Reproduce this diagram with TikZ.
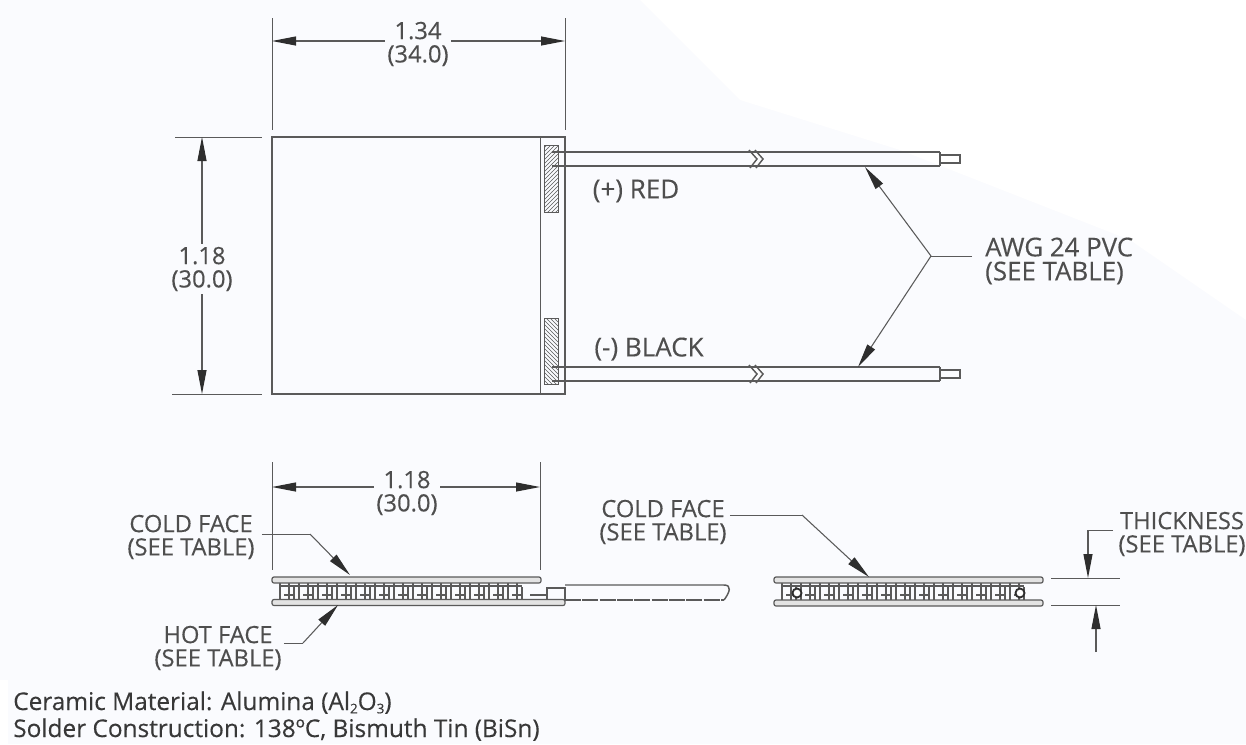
\documentclass[tikz,border=0pt]{standalone}
\usepackage{fontspec}
\setmainfont{Open Sans}
\newfontfamily\labf[FakeBold=0.25]{Open Sans}
\usetikzlibrary{arrows.meta,patterns}
\definecolor{ink}{HTML}{5A5A5A}
\definecolor{dark}{HTML}{2E2E2E}
\definecolor{txt}{HTML}{4E4E4E}
\definecolor{bgtint}{HTML}{FAFBFE}
\tikzset{
  x=0.75pt,y=-0.75pt,
  ln/.style={draw=ink,line width=1.1pt},
  thin ln/.style={draw=ink,line width=0.75pt},
  tip/.style={-{Stealth[length=24*0.75pt,width=9*0.75pt,inset=0pt,color=dark]},draw=ink,line width=0.8pt},
  dim/.style={-{Stealth[length=24*0.75pt,width=9*0.75pt,inset=0pt,color=dark]},draw=ink,line width=0.8pt,shorten <=2pt},
  lab/.style={text=txt,font=\labf\fontsize{17.8}{17.5}\selectfont,align=center,inner sep=0pt},
  awglab/.style={text=txt,font=\labf\fontsize{19.4}{18}\selectfont,align=left,inner sep=0pt},
  biglab/.style={text=txt,font=\labf\fontsize{19.5}{20}\selectfont,inner sep=0pt},
  note/.style={text=black!78,font=\labf\fontsize{18.3}{20}\selectfont,anchor=base west,inner sep=0pt},
  plate/.style={draw=ink,line width=0.9pt,fill=gray!22,rounded corners=1.5pt,inner sep=0pt},
  wire/.style={draw=ink,line width=1.1pt},
  cell/.style={draw=ink,line width=0.8pt}
}
\newcommand{\pelletrow}[4]{% start x, count-1, top y, bottom y
  \draw[cell] (#1,#3+3) -- ({#1+19*#2+14},#3+3);
  \foreach \i in {0,...,#2}{
    \draw[cell] ({#1+19*\i},#3) -- ({#1+19*\i},#4);
    \draw[cell] ({#1+19*\i+9},#3) -- ({#1+19*\i+9},#4);
    \draw[cell] ({#1+19*\i+14},#3+4) -- ({#1+19*\i+14},#4);
    \draw[cell] ({#1+19*\i+4},#4-5) -- ({#1+19*\i+14},#4-5);
  }
}
\newcommand{\subnum}[1]{\raisebox{-2.5pt}{\fontsize{10}{10}\selectfont #1}}
\begin{document}
\begin{tikzpicture}
\useasboundingbox (0,0) rectangle (1246,744);
\fill[bgtint] (0,0) rectangle (1246,744);
\fill[white] (640,0)--(1246,0)--(1246,320)--(1130,240)--(900,150)--(740,100)--cycle;
\fill[white] (0,680) rectangle (8,744);
% top view
\coordinate (bodyTL) at (272,137);
\coordinate (bodyBR) at (565,394);
\draw[ln] (bodyTL) rectangle (bodyBR);
\coordinate (stripT) at (540,137);
\coordinate (stripB) at (540,394);
\draw[thin ln] (stripT) -- (stripB);
\fill[pattern=north east lines,pattern color=ink] (544,145) rectangle (558,212);
\draw[thin ln] (544,145) rectangle (558,212);
\fill[pattern=north west lines,pattern color=ink] (544,318) rectangle (558,384);
\draw[thin ln] (544,318) rectangle (558,384);
% wires
\foreach \y in {152,367}{
  \draw[wire] (552,\y) -- (940,\y) (552,\y+14) -- (940,\y+14);
  \fill[white,opacity=.7] (751,\y+1) rectangle (762,\y+13);
  \draw[wire] (749,\y-2) -- (757,\y+7) -- (750,\y+16);
  \draw[wire] (755,\y-2) -- (763,\y+7) -- (756,\y+16);
  \draw[wire] (940,\y) -- (940,\y+14);
  \draw[wire] (940,\y+3) rectangle (960,\y+11);
}
% top dims
\coordinate (e1a) at (272,18); \coordinate (e1b) at (272,130);
\coordinate (e2a) at (565,18); \coordinate (e2b) at (565,130);
\draw[thin ln] (e1a)--(e1b) (e2a)--(e2b);
\coordinate (d1a) at (272,41); \coordinate (d1b) at (565,41);
\node[lab] (w134) at (418,44) {1.34\\(34.0)};
\draw[dim] (w134.west |- d1a) -- (d1a);
\draw[dim] (w134.east |- d1b) -- (d1b);
\draw[thin ln] (175,137)--(262,137) (172,394)--(262,394);
\coordinate (d2a) at (202,137); \coordinate (d2b) at (202,394);
\node[lab] (h118) at (202,269) {1.18\\(30.0)};
\draw[dim] (h118.north) -- (d2a);
\draw[dim] (h118.south) -- (d2b);
\node[biglab] (red) at (636,191) {(+) RED};
\node[biglab] (black) at (649,349) {(-) BLACK};
% AWG
\node[awglab,anchor=west] (awg) at (985,261) {AWG 24 PVC\\(SEE TABLE)};
\coordinate (awgJ) at (931,256);
\coordinate (awgT) at (865,167);
\coordinate (awgB) at (858,367);
\draw[thin ln,shorten <=13*0.75pt] (awg.west |- awgJ) -- (awgJ);
\draw[tip] (awgJ) -- (awgT);
\draw[tip] (awgJ) -- (awgB);
% side view left
\coordinate (s1a) at (272,462); \coordinate (s1b) at (272,570);
\coordinate (s2a) at (540,462); \coordinate (s2b) at (540,570);
\draw[thin ln] (s1a)--(s1b) (s2a)--(s2b);
\coordinate (d3a) at (272,487); \coordinate (d3b) at (540,487);
\node[lab] (w118) at (407,493) {1.18\\(30.0)};
\draw[dim] (w118.west |- d3a) -- (d3a);
\draw[dim] (w118.east |- d3b) -- (d3b);
\pelletrow{280}{12}{583}{600}
\draw[cell] (530,595) -- (547,595);
\draw[wire] (547,600) -- (547,588) -- (565,588) -- (565,600);
\draw[wire] (565,585) -- (724,585) .. controls (732,585) and (730,592) .. (724,600);
\draw[wire,dash pattern=on 12pt off 1pt] (565,600) -- (724,600);
\node[plate,minimum width=269*0.75pt,minimum height=6*0.75pt] (lt) at (406.5,580) {};
\node[plate,minimum width=293*0.75pt,minimum height=6*0.75pt] (lb) at (418.5,602.5) {};
% cold/hot labels
\node[lab] (cold1) at (191,537) {COLD FACE\\(SEE TABLE)};
\coordinate (cold1J) at (310,534);
\coordinate (cold1T) at (350,575);
\draw[thin ln,shorten <=7*0.75pt] (cold1.east |- cold1J) -- (cold1J);
\draw[tip] (cold1J) -- (cold1T);
\node[lab] (hot) at (218,648) {HOT FACE\\(SEE TABLE)};
\coordinate (hotJ) at (303,643);
\coordinate (hotT) at (338,605);
\draw[thin ln,shorten <=2*0.75pt] (hot.east |- hotJ) -- (hotJ);
\draw[tip] (hotJ) -- (hotT);
% side view right
\pelletrow{782}{12}{583}{600}
\node[plate,minimum width=269*0.75pt,minimum height=6*0.75pt] (rt) at (908.5,580) {};
\node[plate,minimum width=269*0.75pt,minimum height=6*0.75pt] (rb) at (908.5,603) {};
\node[circle,draw=dark,fill=white,line width=1.4pt,minimum size=9*0.75pt,inner sep=0pt] (c1) at (797,593) {};
\node[circle,draw=dark,fill=white,line width=1.4pt,minimum size=9*0.75pt,inner sep=0pt] (c2) at (1020,593) {};
\node[lab] (cold2) at (663,522) {COLD FACE\\(SEE TABLE)};
\coordinate (cold2J) at (802,515);
\coordinate (cold2T) at (869,577);
\draw[thin ln,shorten <=3*0.75pt] (cold2.east |- cold2J) -- (cold2J);
\draw[tip] (cold2J) -- (cold2T);
% thickness
\draw[thin ln] (1051,578)--(1120,578) (1051,605)--(1120,605);
\node[lab] (thick) at (1182,534) {THICKNESS\\(SEE TABLE)};
\coordinate (thS) at (1113,530);
\coordinate (thJ) at (1088,530);
\coordinate (thT) at (1088,578);
\draw[thin ln] (thS) -- (thJ);
\draw[tip] (thJ) -- (thT);
\coordinate (thU) at (1096,652);
\coordinate (thV) at (1096,605);
\draw[tip] (thU) -- (thV);
% notes
\node[note] (n1) at (13,710) {Ceramic Material: Alumina (Al\subnum{2}O\subnum{3})};
\node[note] (n2) at (13,737) {Solder Construction: 138ºC, Bismuth Tin (BiSn)};
\end{tikzpicture}
\end{document}
